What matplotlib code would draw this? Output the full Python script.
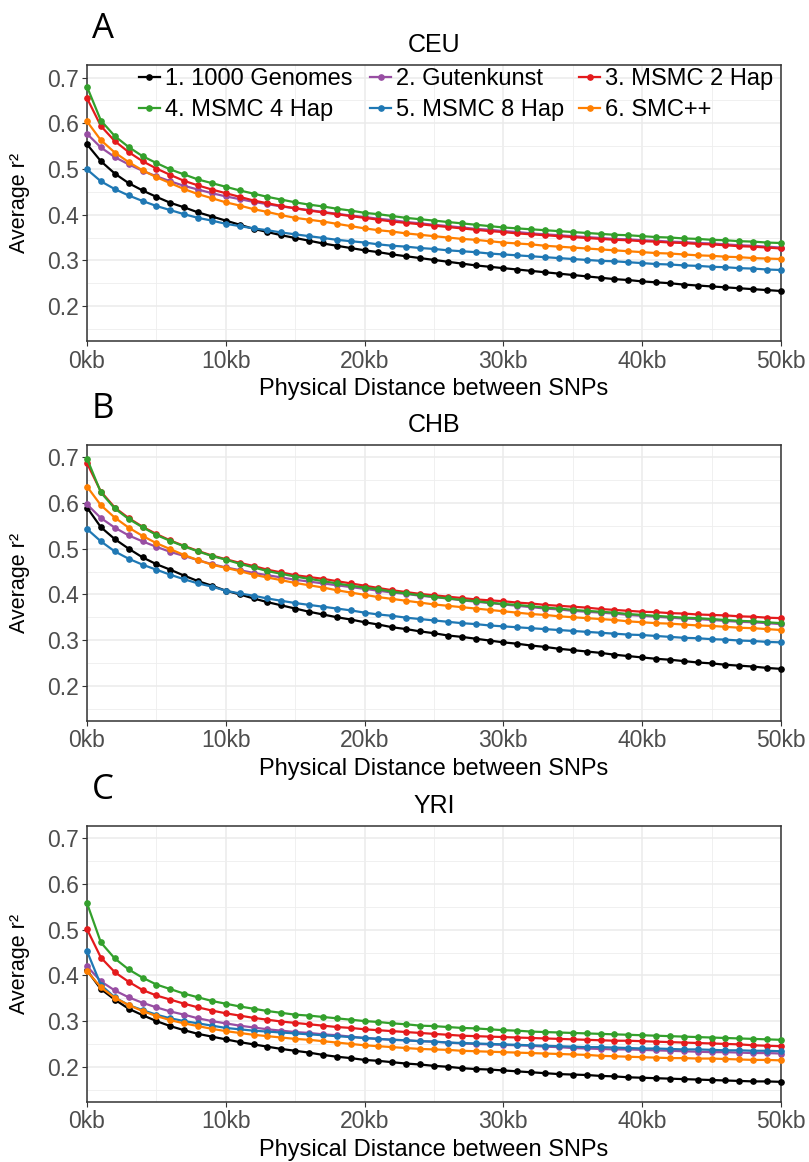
import matplotlib
matplotlib.use("Agg")
import matplotlib.pyplot as plt

plt.rcParams['font.family'] = ['Liberation Sans', 'DejaVu Sans']

# distance between SNPs, one point per kb
distance_kb = list(range(0, 51))

series_labels = ["1. 1000 Genomes", "2. Gutenkunst", "3. MSMC 2 Hap",
                 "4. MSMC 4 Hap", "5. MSMC 8 Hap", "6. SMC++"]
series_colors = ["#000000", "#984EA3", "#E41A1C", "#33A02C", "#1F78B4", "#FF7F00"]

# CEU
ceu_1000g = [.554, .517, .490, .469, .453, .439, .426, .416, .405, .396, .387, .378, .369, .362, .355, .349, .343,
             .337, .332, .327, .322, .318, .313, .309, .305, .301, .297, .293, .289, .286, .283, .280, .277, .274, .271,
             .268, .265, .262, .259, .257, .254, .252, .250, .247, .245, .243, .241, .239, .237, .235, .233]
ceu_gutenkunst = [.577, .547, .526, .510, .496, .484, .473, .463, .455, .447, .440, .434, .428, .423, .418, .414, .410,
                  .406, .402, .398, .395, .391, .388, .384, .381, .378, .375, .372, .369, .367, .364, .362, .359, .357, .355,
                  .353, .351, .349, .347, .346, .344, .343, .341, .340, .338, .337, .335, .333, .332, .330, .328]
ceu_msmc2 = [.655, .594, .561, .537, .517, .501, .487, .474, .464, .455, .447, .439, .431, .425, .419, .414, .409,
             .405, .401, .397, .393, .389, .385, .382, .379, .376, .373, .370, .367, .364, .362, .359, .357, .355, .353,
             .351, .349, .347, .345, .344, .342, .341, .339, .338, .336, .335, .333, .331, .330, .328, .326]
ceu_msmc4 = [.680, .606, .572, .548, .528, .513, .499, .488, .477, .469, .461, .453, .446, .439, .433, .427, .422,
             .418, .413, .409, .404, .401, .397, .393, .390, .387, .384, .381, .378, .375, .372, .370, .368, .366, .364,
             .362, .360, .358, .356, .355, .353, .351, .350, .348, .347, .345, .344, .342, .341, .339, .338]
ceu_msmc8 = [.499, .473, .456, .442, .430, .419, .410, .401, .393, .387, .380, .375, .370, .366, .361, .357, .353,
             .349, .345, .342, .339, .335, .332, .330, .327, .325, .322, .320, .318, .315, .313, .311, .309, .307, .305,
             .303, .301, .299, .298, .296, .294, .292, .291, .289, .288, .286, .285, .283, .282, .280, .279]
ceu_smcpp = [.604, .563, .536, .515, .497, .482, .469, .456, .445, .436, .427, .420, .412, .406, .399, .393, .389,
             .385, .380, .375, .370, .366, .363, .359, .356, .353, .350, .347, .345, .342, .339, .337, .335, .332, .330,
             .328, .326, .324, .322, .320, .318, .316, .315, .313, .311, .310, .308, .307, .305, .304, .303]

# CHB
chb_1000g = [.590, .547, .521, .500, .481, .466, .454, .441, .429, .419, .408, .400, .391, .383, .376, .369, .362,
             .356, .350, .345, .339, .334, .328, .324, .319, .315, .310, .307, .303, .299, .295, .292, .288, .285, .281,
             .278, .275, .272, .268, .265, .262, .259, .257, .254, .251, .249, .246, .244, .242, .239, .237]
chb_gutenkunst = [.597, .567, .546, .529, .516, .504, .493, .484, .475, .466, .459, .453, .447, .442, .437, .432, .428,
                  .424, .420, .416, .412, .408, .404, .401, .397, .394, .391, .387, .384, .381, .378, .375, .372, .369, .367,
                  .364, .362, .360, .358, .355, .353, .351, .349, .347, .346, .344, .342, .340, .339, .337, .335]
chb_msmc2 = [.687, .625, .590, .567, .548, .532, .518, .506, .495, .485, .477, .469, .462, .454, .448, .442, .438,
             .434, .429, .424, .419, .414, .409, .405, .401, .398, .395, .392, .389, .387, .385, .382, .380, .377, .375,
             .373, .371, .368, .366, .364, .362, .361, .359, .358, .356, .355, .354, .352, .351, .349, .348]
chb_msmc4 = [.697, .623, .588, .565, .547, .530, .517, .505, .494, .484, .476, .467, .459, .451, .445, .439, .434,
             .429, .424, .419, .415, .411, .406, .402, .398, .395, .391, .388, .385, .382, .379, .377, .374, .371, .369,
             .366, .364, .362, .360, .357, .355, .353, .351, .349, .348, .346, .344, .342, .341, .339, .337]
chb_msmc8 = [.543, .516, .494, .478, .465, .454, .443, .433, .424, .417, .408, .402, .397, .391, .386, .381, .377,
             .373, .369, .365, .360, .356, .353, .349, .346, .343, .340, .337, .335, .332, .330, .328, .326, .324, .322,
             .320, .318, .316, .314, .312, .311, .309, .307, .305, .304, .302, .301, .299, .298, .296, .295]
chb_smcpp = [.636, .595, .568, .546, .528, .512, .499, .486, .475, .465, .458, .451, .443, .437, .431, .425, .420,
             .415, .409, .404, .399, .394, .390, .386, .382, .378, .375, .372, .369, .366, .363, .360, .357, .355, .352,
             .350, .348, .346, .344, .341, .339, .337, .336, .334, .332, .331, .329, .327, .326, .324, .322]

# YRI
yri_1000g = [.411, .370, .347, .327, .313, .300, .289, .280, .272, .266, .260, .254, .249, .244, .239, .235, .231,
             .226, .222, .219, .215, .213, .210, .207, .205, .202, .200, .197, .195, .194, .192, .190, .188, .186, .184,
             .183, .182, .180, .179, .177, .176, .175, .174, .173, .172, .171, .170, .169, .168, .168, .167]
yri_gutenkunst = [.420, .387, .367, .352, .340, .330, .321, .314, .306, .300, .295, .290, .286, .282, .279, .276, .274,
                  .271, .269, .266, .263, .261, .259, .258, .256, .255, .253, .251, .250, .249, .248, .247, .246, .244, .243,
                  .241, .240, .239, .238, .238, .237, .236, .235, .234, .233, .232, .232, .231, .230, .230, .229]
yri_msmc2 = [.501, .439, .407, .386, .368, .356, .347, .338, .330, .323, .317, .312, .307, .303, .299, .296, .293,
             .290, .287, .285, .282, .280, .278, .276, .274, .272, .270, .268, .267, .266, .265, .264, .263, .262, .261,
             .260, .259, .258, .257, .257, .256, .255, .254, .253, .252, .251, .250, .249, .247, .246, .245]
yri_msmc4 = [.558, .472, .437, .413, .395, .380, .370, .360, .352, .344, .338, .332, .327, .322, .318, .314, .312,
             .309, .306, .303, .300, .298, .295, .293, .290, .289, .287, .285, .284, .282, .280, .279, .277, .276, .275,
             .274, .273, .272, .271, .270, .269, .268, .267, .266, .265, .264, .263, .262, .261, .260, .259]
yri_msmc8 = [.453, .379, .352, .335, .324, .314, .306, .300, .295, .290, .285, .282, .279, .277, .275, .273, .271,
             .269, .267, .265, .263, .261, .259, .258, .256, .255, .253, .252, .251, .250, .249, .248, .247, .246, .245,
             .244, .243, .243, .242, .241, .240, .240, .239, .238, .238, .237, .236, .236, .235, .235, .234]
yri_smcpp = [.409, .374, .351, .335, .322, .311, .302, .295, .289, .283, .278, .274, .270, .267, .264, .261, .259,
             .256, .253, .250, .247, .245, .243, .241, .239, .238, .237, .235, .234, .233, .232, .231, .230, .229, .228,
             .227, .226, .224, .223, .222, .221, .220, .219, .219, .218, .218, .217, .216, .215, .215, .214]

panels = [
    ("A", "CEU", [ceu_1000g, ceu_gutenkunst, ceu_msmc2, ceu_msmc4, ceu_msmc8, ceu_smcpp]),
    ("B", "CHB", [chb_1000g, chb_gutenkunst, chb_msmc2, chb_msmc4, chb_msmc8, chb_smcpp]),
    ("C", "YRI", [yri_1000g, yri_gutenkunst, yri_msmc2, yri_msmc4, yri_msmc8, yri_smcpp]),
]

W, H = 809, 1162
fig = plt.figure(figsize=(W / 100, H / 100), dpi=100)

x_left, x_right = 87, 781
panel_tops = [65, 444.7, 825.7]
panel_h = 276.5

for (letter, pop, series), top in zip(panels, panel_tops):
    ax = fig.add_axes([x_left / W, 1 - (top + panel_h) / H, (x_right - x_left) / W, panel_h / H])

    lines = []
    for vals, lab, col in zip(series, series_labels, series_colors):
        ln, = ax.plot(distance_kb, vals, color=col, lw=1.6, marker='o', ms=3.8,
                      label=lab, clip_on=False, zorder=3)
        lines.append(ln)

    ax.set_xlim(0, 50)
    ax.set_ylim(0.1225, 0.7275)
    ax.set_xticks([0, 10, 20, 30, 40, 50])
    ax.set_xticklabels(["0kb", "10kb", "20kb", "30kb", "40kb", "50kb"])
    ax.set_xticks([5, 15, 25, 35, 45], minor=True)
    ax.set_yticks([0.2, 0.3, 0.4, 0.5, 0.6, 0.7])
    ax.set_yticklabels(["0.2", "0.3", "0.4", "0.5", "0.6", "0.7"])
    ax.set_yticks([0.15, 0.25, 0.35, 0.45, 0.55, 0.65], minor=True)

    ax.grid(which='major', color='#EBEBEB', lw=1.1)
    ax.grid(which='minor', color='#EEEEEE', lw=0.6)
    ax.set_axisbelow(True)
    for sp in ax.spines.values():
        sp.set_color('#333333')
        sp.set_linewidth(1.1)
    ax.tick_params(which='major', length=3.3, width=0.8, color='#333333',
                   labelcolor='#4D4D4D', labelsize=16.5, pad=2.5)
    ax.tick_params(which='minor', length=0)

    ax.set_title(pop, fontsize=18, pad=9)
    fig.text(x_left / W + (x_right - x_left) / W / 2, 1 - (top + panel_h + 53.5) / H,
             "Physical Distance between SNPs", ha='center', va='baseline', fontsize=17)
    fig.text(20 / W, 1 - (top + panel_h / 2) / H, "Average r²", rotation=90,
             ha='center', va='center', fontsize=15.5)
    fig.text(92 / W, 1 - (top - 27) / H, letter, ha='left', va='baseline',
             fontsize=25, family=['Open Sans', 'DejaVu Sans'])

    if letter == "A":
        # one small legend per column so the columns sit where the original has them
        col_x = [0.0744, 0.4078, 0.709]
        pairs = [(0, 3), (1, 4), (2, 5)]
        legs = []
        for cx, (i, j) in zip(col_x, pairs):
            leg = ax.legend(handles=[lines[i], lines[j]], labels=[series_labels[i], series_labels[j]],
                            loc='upper left', bbox_to_anchor=(cx, 0.99), bbox_transform=ax.transAxes,
                            frameon=False, borderpad=0, borderaxespad=0, handlelength=0.9,
                            handletextpad=0.2, labelspacing=0.4, fontsize=17)
            legs.append(leg)
        for leg in legs[:-1]:
            ax.add_artist(leg)

fig.savefig("out.png", dpi=100)
